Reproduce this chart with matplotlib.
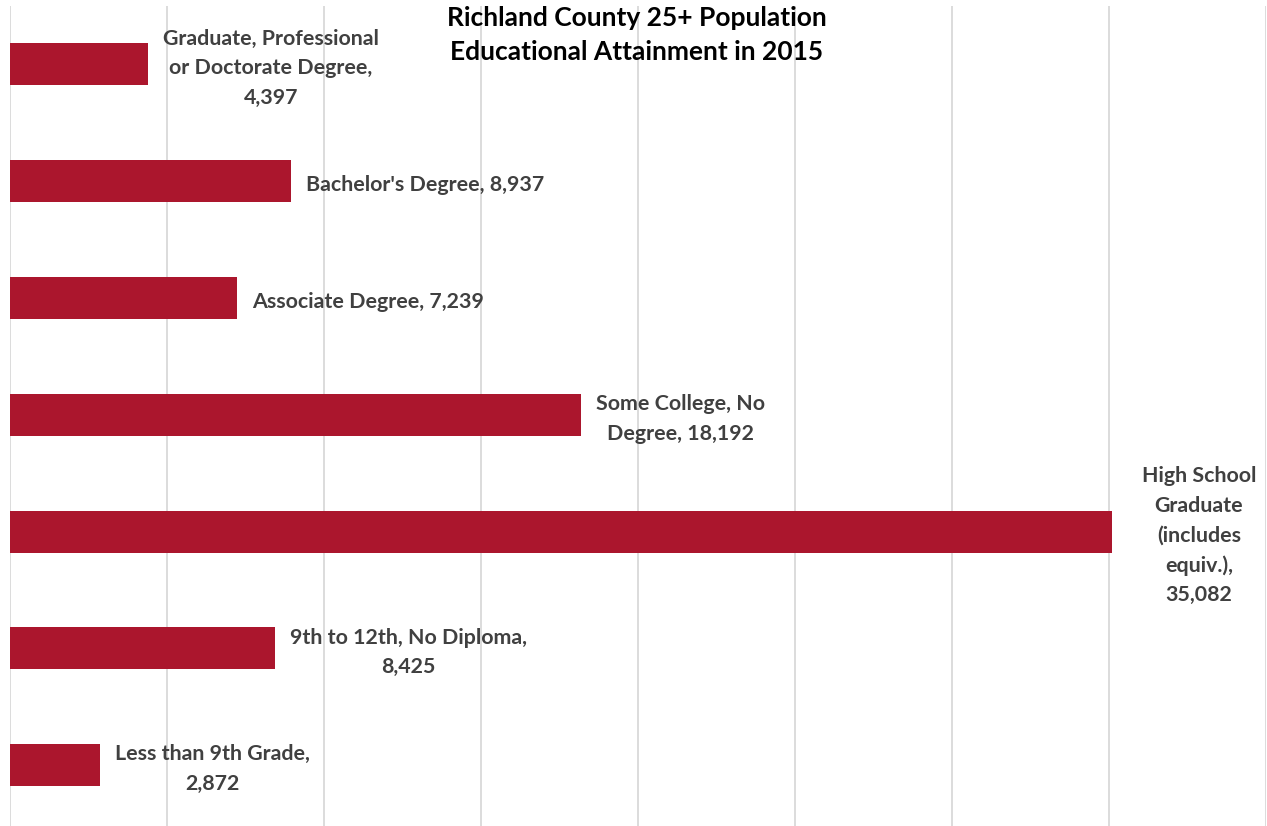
import matplotlib.pyplot as plt
import matplotlib.ticker as mticker

# Data (top to bottom as shown)
categories = [
    "Graduate, Professional\nor Doctorate Degree,",
    "Bachelor's Degree,",
    "Associate Degree,",
    "Some College, No\nDegree,",
    "High School\nGraduate\n(includes\nequiv.),",
    "9th to 12th, No Diploma,",
    "Less than 9th Grade,",
]
values = [4397, 8937, 7239, 18192, 35082, 8425, 2872]
# whether the number goes on its own line
value_newline = [True, False, False, False, True, True, True]

bar_color = "#AB162D"
text_color = "#404040"

plt.rcParams["font.family"] = ["Lato", "DejaVu Sans"]

fig = plt.figure(figsize=(12.67, 8.26), dpi=100)
ax = fig.add_axes([10 / 1267, 0, 1256 / 1267, 820 / 826])

n = len(values)
ypos = list(range(n - 1, -1, -1))
ax.barh(ypos, values, height=0.36, color=bar_color, zorder=2)

ax.set_xlim(0, 40000)
ax.set_ylim(-0.52, n - 0.5)
ax.xaxis.set_major_locator(mticker.MultipleLocator(5000))
ax.grid(axis="x", color="#D9D9D9", lw=1.3, zorder=0)
ax.set_yticks([])
ax.tick_params(axis="x", length=0, labelbottom=False)
for s in ax.spines.values():
    s.set_visible(False)

for y, cat, v, nl in zip(ypos, categories, values, value_newline):
    txt = cat + ("\n" if nl else " ") + f"{v:,}"
    gap = 30 if v > 30000 else 15
    ax.annotate(txt, (v, y), xytext=(gap, -4), textcoords="offset pixels",
                ha="left", va="center", multialignment="center",
                fontsize=15.4, fontweight="bold", color=text_color,
                linespacing=1.6, zorder=3)

fig.text(637 / 1267, 1 - 35 / 826,
         "Richland County 25+ Population\nEducational Attainment in 2015",
         ha="center", va="center", fontsize=19, fontweight="bold",
         color="black", linespacing=1.5)

fig.savefig("out.png", dpi=100)
